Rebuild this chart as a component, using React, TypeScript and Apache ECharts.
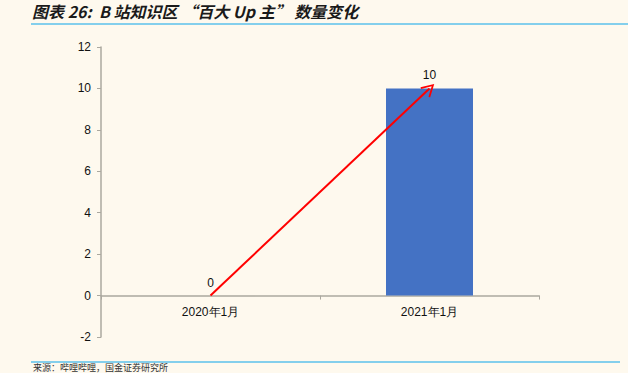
import React, { useEffect, useRef } from "react";
import * as echarts from "echarts";

const categories = ["2020年1月", "2021年1月"];
const counts = [0, 10];
const yTicks = { min: -2, max: 12, interval: 2 };
const titleText = "图表 26:  B 站知识区 “百大 Up 主” 数量变化";
const sourceText = "来源：哔哩哔哩，国金证券研究所";

export default function App() {
  const ref = useRef<HTMLDivElement>(null);
  useEffect(() => {
    if (!ref.current) return;
    const chart = echarts.init(ref.current, null, { renderer: "svg" });
    const axisColor = "#ABA89F";
    chart.setOption({
      animation: false,
      backgroundColor: "#FEF9EE",
      textStyle: { fontFamily: "Liberation Sans, Arial, sans-serif" },
      grid: { left: 101, right: 89, top: 47, bottom: 36, containLabel: false },
      xAxis: {
        type: "category",
        data: categories,
        axisLine: { onZero: true, lineStyle: { color: axisColor, width: 1.5 } },
        axisTick: { show: true, alignWithLabel: false, length: 4, lineStyle: { color: axisColor } },
        axisLabel: { color: "#111", fontSize: 12, margin: -31, fontFamily: "Liberation Sans, Arial, sans-serif" },
        splitLine: { show: false },
      },
      yAxis: {
        type: "value",
        min: yTicks.min,
        max: yTicks.max,
        interval: yTicks.interval,
        axisLine: { show: true, lineStyle: { color: axisColor, width: 1.5 } },
        axisTick: { show: true, length: 4, lineStyle: { color: axisColor } },
        axisLabel: { color: "#111", fontSize: 12, margin: 10, fontFamily: "Liberation Sans, Arial, sans-serif" },
        splitLine: { show: false },
      },
      series: [
        {
          type: "bar",
          data: counts,
          barWidth: 87,
          itemStyle: { color: "#4472C4" },
          label: { show: true, position: "top", color: "#111", fontSize: 12, distance: 7 },
          markLine: {
            silent: true,
            symbol: ["none", "path://M0,12 L6,0 L12,12 L10.6,12.7 L6,3.4 L1.4,12.7 Z"],
            symbolSize: [14, 13],
            label: { show: false },
            lineStyle: { color: "#FF0000", width: 2, type: "solid" },
            data: [
              [
                { coord: [categories[0], counts[0]] },
                { coord: [categories[1], counts[1]] },
              ],
            ],
          },
        },
      ],
      graphic: [
        {
          type: "text",
          left: 32,
          top: 3,
          style: {
            text: titleText,
            font: "italic bold 16px 'Noto Sans CJK SC', sans-serif",
            fill: "#1a1a1a",
          },
        },
        {
          type: "line",
          shape: { x1: 31, y1: 24, x2: 628, y2: 24 },
          style: { stroke: "#5BC0EB", lineWidth: 1.5 },
        },
        {
          type: "line",
          shape: { x1: 31, y1: 362, x2: 620, y2: 362 },
          style: { stroke: "#5BC0EB", lineWidth: 1.5 },
        },
        {
          type: "text",
          left: 33,
          top: 363,
          style: {
            text: sourceText,
            font: "9px 'Noto Sans CJK SC', sans-serif",
            fill: "#333",
          },
        },
      ],
    });
    return () => chart.dispose();
  }, []);
  return <div ref={ref} style={{ width: 628, height: 373, position: "absolute", left: 0, top: 0 }} />;
}
